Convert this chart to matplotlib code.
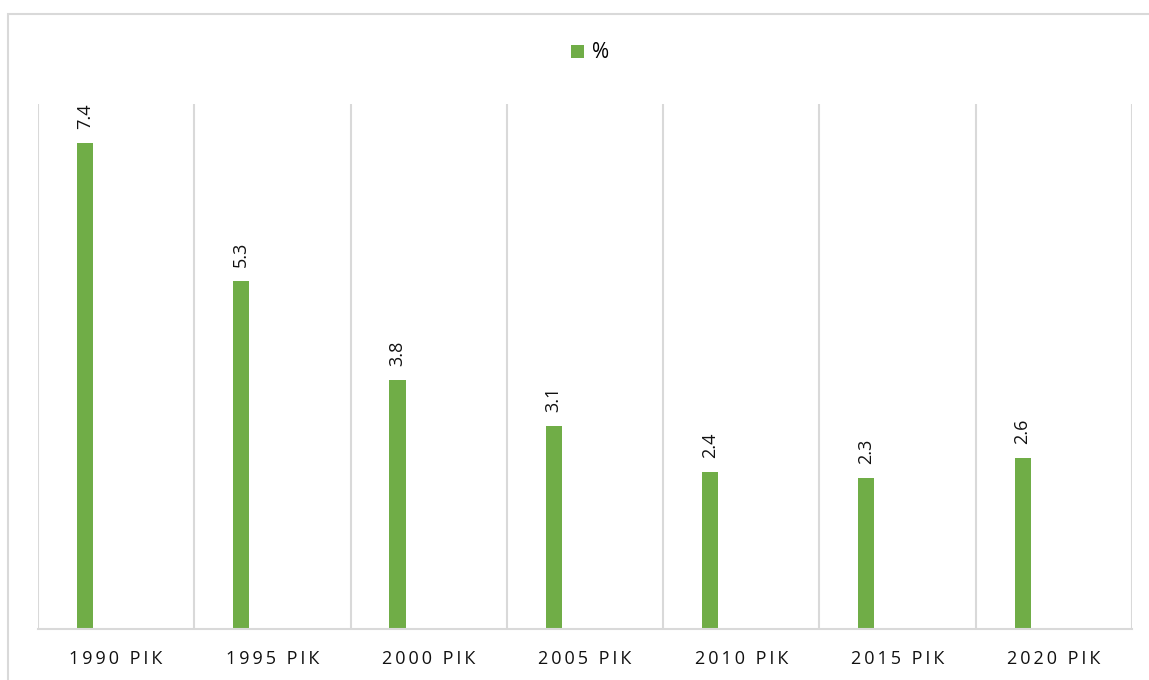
import matplotlib
matplotlib.use("Agg")
from matplotlib import pyplot as plt
from matplotlib.patches import Rectangle
from matplotlib.ticker import FixedLocator

# Data
years = ["1990", "1995", "2000", "2005", "2010", "2015", "2020"]
suffix = "РІК"
values = [7.4, 5.3, 3.8, 3.1, 2.4, 2.3, 2.6]
series_name = "%"

BAR_COLOR = "#70ad47"
GRID_COLOR = "#d9d9d9"
plt.rcParams["font.family"] = ["Open Sans", "DejaVu Sans"]

THIN = "\u2009"


def spaced(s: str) -> str:
    """Imitate Excel letter spacing with thin spaces"""
    return THIN.join(s)


fig = plt.figure(figsize=(11.49, 6.8), dpi=100)
W, H = 1149, 680

# outer chart border
fig.patches.append(
    Rectangle((8 / W, -0.1), 1.2, 1.1 - 14 / H, transform=fig.transFigure,
              fill=False, edgecolor=GRID_COLOR, linewidth=1.5)
)

ax = fig.add_axes([38 / W, 51 / H, (1132 - 38) / W, (629 - 104) / H])

x = list(range(len(years)))
bar_x = [i - 0.2 for i in x]
bars = ax.bar(bar_x, values, width=0.103, color=BAR_COLOR, label=series_name)

for b, v in zip(bars, values):
    ax.annotate(f"{v}", (b.get_x() + b.get_width() / 2, v), xytext=(0, 10),
                textcoords="offset points", rotation=90, ha="center", va="bottom",
                fontsize=13, color="#111111")

ax.set_xlim(-0.5, len(years) - 0.5)
ax.set_ylim(0, 8)
ax.set_yticks([])
ax.set_xticks(x)
ax.set_xticklabels([spaced(y) + THIN + " " + THIN + spaced(suffix) for y in years],
                   fontsize=13, color="#111111")
ax.tick_params(axis="x", length=0, pad=15)
ax.xaxis.set_minor_locator(FixedLocator([i + 0.5 for i in range(-1, len(years))]))
ax.tick_params(axis="x", which="minor", length=0)
ax.grid(which="minor", axis="x", color=GRID_COLOR, linewidth=1.5)
ax.set_axisbelow(True)

for side in ("top", "left", "right"):
    ax.spines[side].set_visible(False)
ax.spines["bottom"].set_color(GRID_COLOR)
ax.spines["bottom"].set_linewidth(1.5)

fig.legend(loc="center", bbox_to_anchor=(590 / W, 1 - 53 / H), frameon=False,
           fontsize=15, handlelength=0.6, handleheight=0.6, handletextpad=0.4)

fig.savefig("out.png", dpi=100)
